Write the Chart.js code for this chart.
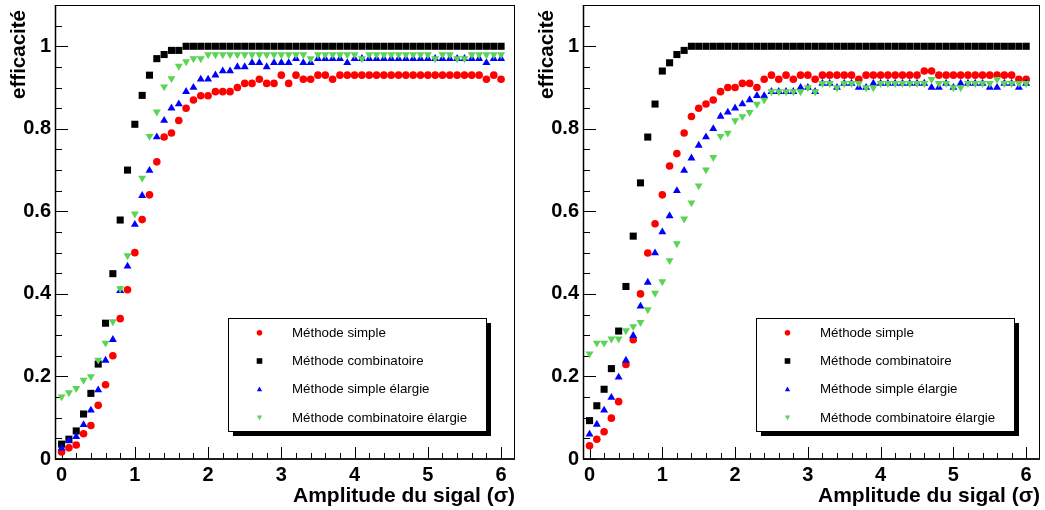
<!DOCTYPE html>
<html><head><meta charset="utf-8">
<script src="https://cdn.jsdelivr.net/npm/chart.js@4.4.1/dist/chart.umd.min.js"></script>
<style>
html,body{margin:0;padding:0;background:#fff;}
#wrap{position:relative;width:1045px;height:510px;overflow:hidden;background:#fff;}
.p{position:absolute;top:0;height:510px;}
canvas{display:block;}
</style></head><body>
<div id="wrap">
<div class="p" style="left:0;width:522px"><canvas id="c1" width="522" height="510"></canvas></div>
<div class="p" style="left:522px;width:523px"><canvas id="c2" width="523" height="510"></canvas></div>
</div>
<script>
// ---- data ----
const AMPLITUDE = [0,0.1,0.2,0.3,0.4,0.5,0.6,0.7,0.8,0.9,1,1.1,1.2,1.3,1.4,1.5,1.6,1.7,1.8,1.9,2,2.1,2.2,2.3,2.4,2.5,2.6,2.7,2.8,2.9,3,3.1,3.2,3.3,3.4,3.5,3.6,3.7,3.8,3.9,4,4.1,4.2,4.3,4.4,4.5,4.6,4.7,4.8,4.9,5,5.1,5.2,5.3,5.4,5.5,5.6,5.7,5.8,5.9,6];

const SERIES_LABELS = ['Méthode simple','Méthode combinatoire','Méthode simple élargie','Méthode combinatoire élargie'];

// left panel
const SIMPLE_L = [0.017,0.027,0.034,0.061,0.081,0.13,0.18,0.25,0.34,0.41,
  0.50,0.58,0.64,0.72,0.78,0.79,0.82,0.85,0.87,0.88,
  0.88,0.89,0.89,0.89,0.90,0.91,0.91,0.92,0.91,0.91,
  0.93,0.91,0.93,0.92,0.92,0.93,0.93,0.92,0.93,0.93,
  0.93,0.93,0.93,0.93,0.93,0.93,0.93,0.93,0.93,0.93,
  0.93,0.93,0.93,0.93,0.93,0.93,0.93,0.93,0.92,0.93,0.92];
const COMB_L = [0.036,0.048,0.068,0.109,0.159,0.23,0.329,0.449,0.579,0.70,
  0.811,0.881,0.93,0.97,0.98,0.99,0.99,1,1,1,
  1,1,1,1,1,1,1,1,1,1,
  1,1,1,1,1,1,1,1,1,1,
  1,1,1,1,1,1,1,1,1,1,
  1,1,1,1,1,1,1,1,1,1,1];
const SIMPLE_WIDE_L = [0.026,0.044,0.054,0.083,0.118,0.167,0.239,0.289,0.408,0.467,
  0.568,0.638,0.699,0.78,0.82,0.85,0.86,0.89,0.90,0.92,
  0.92,0.93,0.94,0.94,0.95,0.95,0.96,0.96,0.95,0.96,
  0.96,0.96,0.97,0.96,0.96,0.97,0.97,0.97,0.97,0.96,
  0.97,0.97,0.97,0.97,0.97,0.97,0.97,0.97,0.97,0.97,
  0.97,0.97,0.97,0.97,0.97,0.97,0.97,0.97,0.96,0.97,0.97];
const COMB_WIDE_L = [0.151,0.161,0.171,0.191,0.20,0.24,0.281,0.333,0.413,0.493,
  0.594,0.681,0.782,0.841,0.902,0.922,0.952,0.963,0.97,0.97,
  0.98,0.98,0.98,0.98,0.98,0.98,0.98,0.98,0.98,0.98,
  0.98,0.98,0.98,0.98,0.97,0.98,0.98,0.98,0.98,0.98,
  0.98,0.97,0.98,0.98,0.98,0.98,0.98,0.98,0.98,0.98,
  0.98,0.97,0.98,0.98,0.97,0.97,0.98,0.98,0.98,0.98,0.98];

// right panel
const SIMPLE_R = [0.032,0.048,0.066,0.099,0.139,0.229,0.289,0.40,0.499,0.57,
  0.64,0.71,0.74,0.79,0.83,0.85,0.86,0.87,0.89,0.90,
  0.90,0.91,0.91,0.90,0.92,0.93,0.92,0.93,0.92,0.93,
  0.93,0.92,0.93,0.93,0.93,0.93,0.93,0.92,0.93,0.93,
  0.93,0.93,0.93,0.93,0.93,0.93,0.94,0.94,0.93,0.93,
  0.93,0.93,0.93,0.93,0.93,0.93,0.93,0.93,0.93,0.92,0.92];
const COMB_R = [0.093,0.129,0.169,0.219,0.31,0.418,0.54,0.669,0.78,0.86,
  0.94,0.96,0.98,0.99,1,1,1,1,1,1,
  1,1,1,1,1,1,1,1,1,1,
  1,1,1,1,1,1,1,1,1,1,
  1,1,1,1,1,1,1,1,1,1,
  1,1,1,1,1,1,1,1,1,1,1];
const SIMPLE_WIDE_R = [0.06,0.084,0.118,0.149,0.198,0.239,0.299,0.37,0.428,0.499,
  0.55,0.589,0.65,0.699,0.729,0.76,0.78,0.80,0.83,0.84,
  0.85,0.86,0.87,0.88,0.88,0.89,0.89,0.89,0.89,0.90,
  0.90,0.89,0.91,0.91,0.90,0.91,0.91,0.90,0.90,0.91,
  0.91,0.91,0.91,0.91,0.91,0.91,0.91,0.90,0.90,0.91,
  0.90,0.91,0.91,0.91,0.91,0.90,0.90,0.91,0.91,0.90,0.91];
const COMB_WIDE_R = [0.255,0.281,0.281,0.291,0.291,0.311,0.321,0.331,0.362,0.402,
  0.43,0.481,0.522,0.582,0.621,0.662,0.701,0.731,0.782,0.79,
  0.82,0.83,0.84,0.86,0.87,0.89,0.89,0.89,0.89,0.89,
  0.90,0.89,0.91,0.91,0.90,0.91,0.91,0.91,0.90,0.90,
  0.91,0.91,0.91,0.91,0.91,0.91,0.91,0.92,0.91,0.91,
  0.90,0.90,0.91,0.91,0.91,0.91,0.92,0.91,0.91,0.91,0.91];

const X_TICKS = [0,1,2,3,4,5,6];
const X_TICK_LABELS = ['0','1','2','3','4','5','6'];
const Y_TICKS = [0,0.2,0.4,0.6,0.8,1];
const Y_TICK_LABELS = ['0','0.2','0.4','0.6','0.8','1'];
const X_TITLE = 'Amplitude du sigal (σ)';
const Y_TITLE = 'efficacité';

// ---- styles ----
const FONT = "'Liberation Sans', Arial, Helvetica, sans-serif";
const COLORS = ['#ff0000','#000000','#0000ff','#59d454'];
const STYLES = ['circle','rect','triangle','triangle'];
const ROTATIONS = [0,0,0,180];
const RADII = [3.8,5,4.6,4.6];
const ORDERS = [3,2,1,0];

const frameTicks = {
  id:'frameTicks',
  beforeDatasetsDraw(chart){
    const {ctx, chartArea:a, scales:{x, y}} = chart;
    ctx.save();
    ctx.strokeStyle = '#000';
    ctx.lineWidth = 1;
    ctx.strokeRect(a.left + 0.5, a.top + 0.5, a.right - a.left - 1, a.bottom - a.top - 0.5);
    ctx.lineWidth = 1.5;
    ctx.beginPath();
    ctx.moveTo(a.left + 0.5, a.top); ctx.lineTo(a.left + 0.5, a.bottom);
    ctx.lineTo(a.right, a.bottom);
    ctx.stroke();
    ctx.lineWidth = 1;
    ctx.beginPath();
    for (let k = 0; k <= 22; k++) {
      const v = k * 0.05;
      if (v > y.max) break;
      const isMajor = Y_TICKS.some(t => Math.abs(t - v) < 1e-6);
      const py = Math.round(y.getPixelForValue(v)) + 0.5;
      ctx.moveTo(a.left, py); ctx.lineTo(a.left + (isMajor ? 13 : 7), py);
    }
    for (let k = 0; k <= 31; k++) {
      const v = k * 0.2;
      if (v > x.max) break;
      const isMajor = X_TICKS.some(t => Math.abs(t - v) < 1e-6);
      const px = Math.round(x.getPixelForValue(v)) + 0.5;
      ctx.moveTo(px, a.bottom); ctx.lineTo(px, a.bottom - (isMajor ? 12 : 6));
    }
    ctx.stroke();
    // y-axis title, rotated, right-aligned near the top of the frame
    ctx.save();
    ctx.translate(a.left - 35.5, a.top + 5);
    ctx.rotate(-Math.PI / 2);
    ctx.font = "bold 20.5px " + FONT;
    ctx.fillStyle = '#000';
    ctx.textAlign = 'right';
    ctx.textBaseline = 'middle';
    ctx.fillText(Y_TITLE, 0, 0);
    ctx.restore();
    ctx.restore();
  }
};

function drawMarker(ctx, style, rot, cx, cy, r, color){
  ctx.fillStyle = color;
  ctx.beginPath();
  if (style === 'circle') {
    ctx.arc(cx, cy, r, 0, Math.PI * 2);
  } else if (style === 'rect') {
    ctx.rect(cx - r, cy - r, 2 * r, 2 * r);
  } else {
    const s = rot ? -1 : 1;
    ctx.moveTo(cx, cy - s * r);
    ctx.lineTo(cx + r * 0.95, cy + s * r * 0.7);
    ctx.lineTo(cx - r * 0.95, cy + s * r * 0.7);
    ctx.closePath();
  }
  ctx.fill();
}

const legendBox = {
  id:'legendBox',
  afterDatasetsDraw(chart){
    const {ctx, chartArea:a} = chart;
    const bx = Math.round(a.left + 173), by = 318, bw = 258, bh = 113;
    ctx.save();
    ctx.fillStyle = '#000';
    ctx.fillRect(bx + 5, by + 5, bw, bh);
    ctx.fillStyle = '#fff';
    ctx.fillRect(bx, by, bw, bh);
    ctx.strokeStyle = '#000';
    ctx.lineWidth = 1;
    ctx.strokeRect(bx + 0.5, by + 0.5, bw, bh);
    ctx.font = "13.3px " + FONT;
    ctx.textBaseline = 'middle';
    ctx.textAlign = 'left';
    chart.data.datasets.forEach((ds, i) => {
      const ry = by + 14.8 + i * 28.2;
      drawMarker(ctx, STYLES[i], ROTATIONS[i], bx + 31.5, ry, 2.8, COLORS[i]);
      ctx.fillStyle = '#000';
      ctx.fillText(ds.label, bx + 64, ry + 0.5);
    });
    ctx.restore();
  }
};

function makeChart(id, series, padRight, yAxisWidth){
  return new Chart(document.getElementById(id), {
    type:'scatter',
    data:{
      datasets: series.map((vals, i) => ({
        label: SERIES_LABELS[i],
        data: AMPLITUDE.map((x, j) => ({x: x, y: vals[j]})),
        pointStyle: STYLES[i],
        pointRotation: ROTATIONS[i],
        pointRadius: RADII[i],
        pointHoverRadius: RADII[i],
        pointBackgroundColor: COLORS[i],
        pointBorderColor: COLORS[i],
        pointBorderWidth: 0,
        showLine: false,
        order: ORDERS[i]
      }))
    },
    options:{
      responsive:false, animation:false, devicePixelRatio:1,
      events: [],
      layout:{padding:{left:0, right:padRight, top:5, bottom:0}},
      plugins:{legend:{display:false}, tooltip:{enabled:false}},
      scales:{
        x:{
          type:'linear', min:-0.09, max:6.19,
          grid:{display:false, drawTicks:false}, border:{display:false},
          afterBuildTicks: ax => { ax.ticks = X_TICKS.map(v => ({value:v})); },
          afterFit: ax => { ax.height = 51; ax.paddingLeft = 0; ax.paddingRight = 0; },
          ticks:{autoSkip:false, maxRotation:0, padding:4, color:'#000',
            font:{family:FONT, size:20, weight:'bold'},
            callback: v => X_TICK_LABELS[X_TICKS.indexOf(v)]},
          title:{display:true, text:X_TITLE, align:'end', color:'#000',
            font:{family:FONT, size:21, weight:'bold'}, padding:{top:0, bottom:1}}
        },
        y:{
          type:'linear', min:0, max:1.1,
          grid:{display:false, drawTicks:false}, border:{display:false},
          afterBuildTicks: ax => { ax.ticks = Y_TICKS.map(v => ({value:v})); },
          afterFit: ax => { ax.width = yAxisWidth; ax.paddingTop = 0; ax.paddingBottom = 0; },
          ticks:{autoSkip:false, padding:4, color:'#000',
            font:{family:FONT, size:20, weight:'bold'},
            callback: v => Y_TICK_LABELS[Y_TICKS.indexOf(v)]},
          title:{display:false}
        }
      }
    },
    plugins:[frameTicks, legendBox]
  });
}

makeChart('c1', [SIMPLE_L, COMB_L, SIMPLE_WIDE_L, COMB_WIDE_L], 7, 55);
makeChart('c2', [SIMPLE_R, COMB_R, SIMPLE_WIDE_R, COMB_WIDE_R], 2, 61);
</script>
</body></html>
